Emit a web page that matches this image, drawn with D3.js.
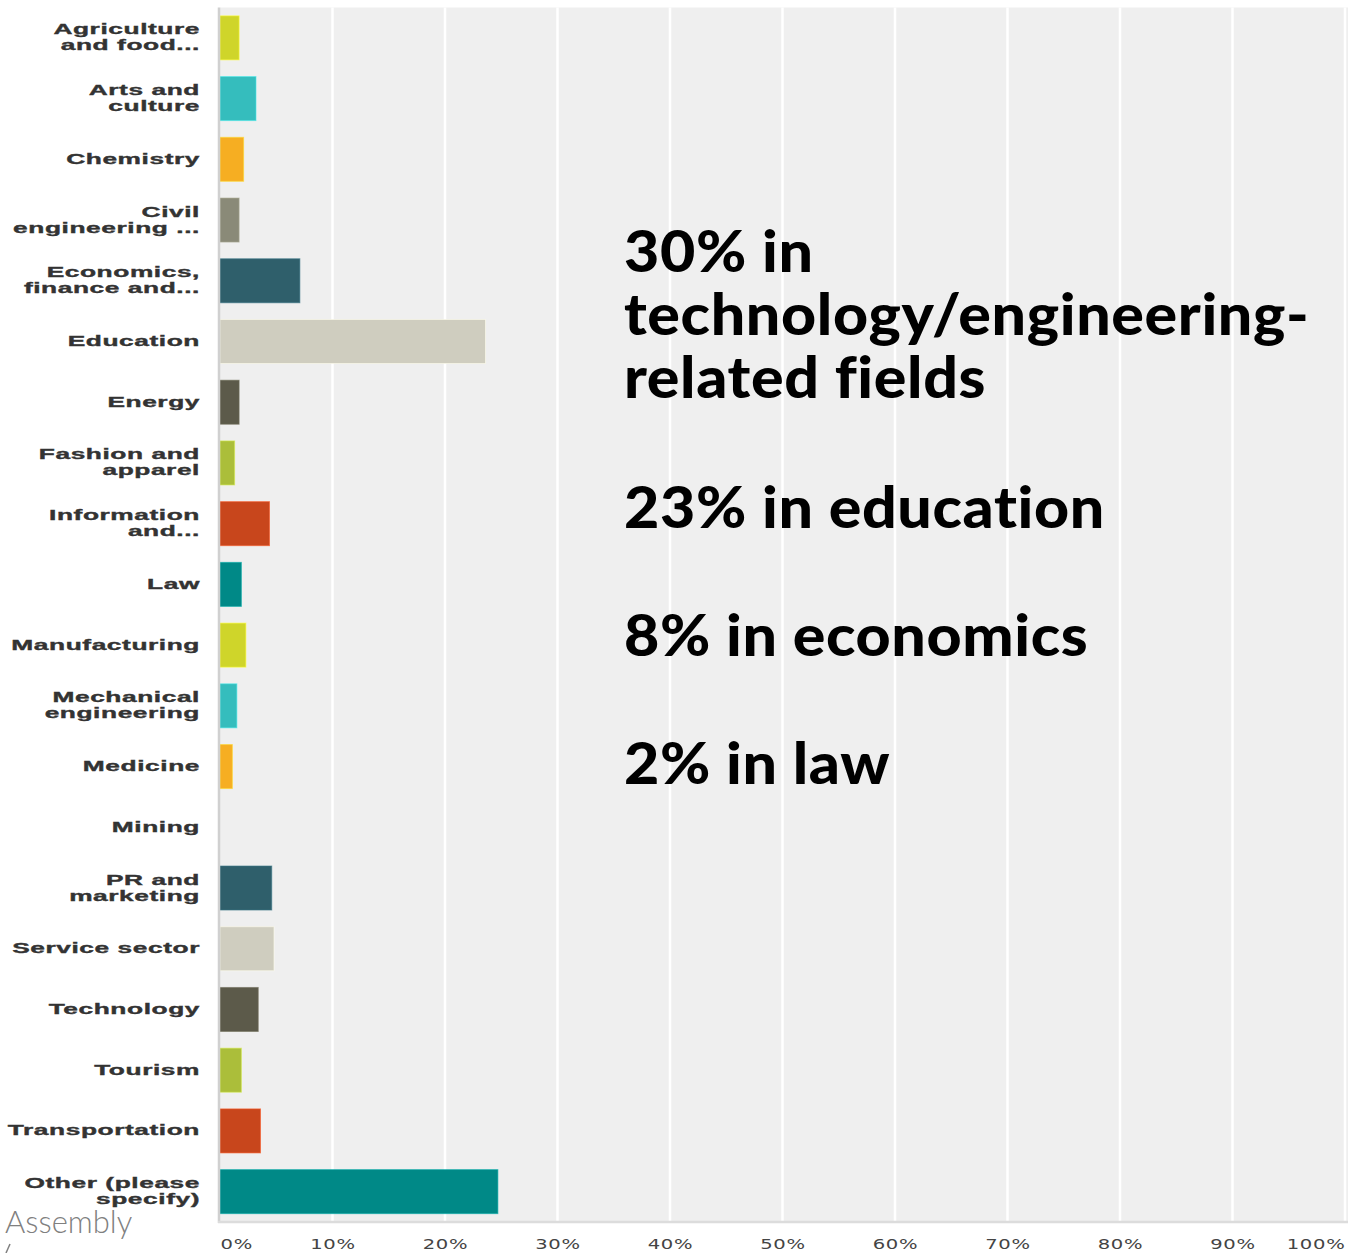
<!DOCTYPE html>
<html>
<head>
<meta charset="utf-8">
<script src="https://cdn.jsdelivr.net/npm/d3@7"></script>
<style>
  html, body { margin: 0; padding: 0; background: #ffffff; }
  svg { display: block; }
</style>
</head>
<body>
<svg id="chart" width="1348" height="1253"></svg>
<script>
// Survey answers: field of work, share of respondents (%)
const categories = [
  "Agriculture\nand food...",
  "Arts and\nculture",
  "Chemistry",
  "Civil\nengineering ...",
  "Economics,\nfinance and...",
  "Education",
  "Energy",
  "Fashion and\napparel",
  "Information\nand...",
  "Law",
  "Manufacturing",
  "Mechanical\nengineering",
  "Medicine",
  "Mining",
  "PR and\nmarketing",
  "Service sector",
  "Technology",
  "Tourism",
  "Transportation",
  "Other (please\nspecify)"
];
const values = [1.7, 3.2, 2.1, 1.7, 7.1, 23.6, 1.7, 1.3, 4.4, 1.9,
                2.3, 1.5, 1.1, 0, 4.6, 4.8, 3.4, 1.9, 3.6, 24.7];
const palette = ["#cfd52a", "#35bdbd", "#f6ae22", "#8a8a78", "#2f5f6b",
                 "#cfcdbf", "#5c5a4a", "#abbe3a", "#c8461c", "#008987"];
const tickValues = [0, 10, 20, 30, 40, 50, 60, 70, 80, 90, 100];
const highlights = [
  ["30% in", "technology/engineering-", "related fields"],
  ["23% in education"],
  ["8% in economics"],
  ["2% in law"]
];
const brand = "Assembly";

const svg = d3.select("#chart");
const W = 1348, H = 1253;
const plot = { left: 220, right: 1345, top: 7.5, bottom: 1222 };

const x = d3.scaleLinear().domain([0, 100]).range([plot.left, plot.right]);
const y = d3.scaleBand().domain(categories)
  .range([plot.top, plot.bottom])
  .paddingInner(0.275).paddingOuter(0.1375);
const color = d3.scaleOrdinal().domain(categories)
  .range(categories.map((c, i) => palette[i % palette.length]));

// plot background
svg.append("rect")
  .attr("x", plot.left).attr("y", plot.top)
  .attr("width", W - plot.left).attr("height", plot.bottom - plot.top)
  .attr("fill", "#efefef");

// vertical gridlines
svg.append("g").selectAll("line")
  .data(tickValues.filter(t => t > 0))
  .join("line")
  .attr("x1", d => x(d)).attr("x2", d => x(d))
  .attr("y1", plot.top).attr("y2", plot.bottom)
  .attr("stroke", "#ffffff").attr("stroke-width", 2.5);

// bars
svg.append("g").selectAll("rect")
  .data(categories.map((c, i) => ({ c, v: values[i] })))
  .join("rect")
  .attr("x", x(0))
  .attr("y", d => y(d.c))
  .attr("width", d => Math.max(0, x(d.v) - x(0)))
  .attr("height", y.bandwidth())
  .attr("fill", d => color(d.c))
  .attr("stroke", d => d3.color(color(d.c)).brighter(0.6))
  .attr("stroke-opacity", d => d.v > 0 ? 0.6 : 0)
  .attr("stroke-width", 1);

// axis frame lines
svg.append("line")
  .attr("x1", plot.left - 1).attr("x2", plot.left - 1)
  .attr("y1", plot.top).attr("y2", plot.bottom + 1)
  .attr("stroke", "#d0d0d0").attr("stroke-width", 2.5);
svg.append("line")
  .attr("x1", plot.left - 2).attr("x2", W)
  .attr("y1", plot.bottom).attr("y2", plot.bottom)
  .attr("stroke", "#dcdcdc").attr("stroke-width", 2.5);

// category labels (wide, heavy)
const labelG = svg.append("g");
categories.forEach(c => {
  const lines = c.split("\n");
  const cy = y(c) + y.bandwidth() / 2;
  lines.forEach((ln, i) => {
    const by = cy + 4.5 + (i - (lines.length - 1) / 2) * 16;
    labelG.append("text")
      .attr("transform", `translate(200,${by}) scale(1.88,1)`)
      .attr("text-anchor", "end")
      .attr("font-family", "'Liberation Sans', Arial, sans-serif")
      .attr("font-weight", "bold")
      .attr("font-size", 14)
      .attr("letter-spacing", 0.3)
      .attr("fill", "#333333")
      .attr("stroke", "#333333")
      .attr("stroke-width", 0.35)
      .text(ln);
  });
});

// bottom axis tick labels
const xAxis = d3.axisBottom(x).tickValues(tickValues)
  .tickFormat(d => d + "%").tickSize(0).tickPadding(0);
const axG = svg.append("g")
  .attr("transform", `translate(0,1249)`)
  .call(xAxis);
axG.select(".domain").remove();
axG.selectAll("text")
  .attr("dy", 0)
  .attr("y", 0)
  .attr("font-family", "'DejaVu Sans', Verdana, sans-serif")
  .attr("font-size", 13.5)
  .attr("letter-spacing", 0.5)
  .attr("fill", "#444444")
  .attr("transform", "scale(1.45,1)")
  .attr("text-anchor", d => d === 0 ? "start" : d === 100 ? "end" : "middle");

// highlight annotations
const noteG = svg.append("g")
  .attr("font-family", "Lato, 'Open Sans', sans-serif")
  .attr("font-weight", 900)
  .attr("font-size", 58)
  .attr("fill", "#000000")
  .style("font-variant-ligatures", "none")
  .style("font-feature-settings", "'liga' 0, 'dlig' 0");
const blockStarts = [272, 528, 656, 784];
highlights.forEach((block, bi) => {
  block.forEach((ln, li) => {
    noteG.append("text")
      .attr("transform", `translate(624,${blockStarts[bi] + li * 63}) scale(1.05,1)`)
      .attr("letter-spacing", 0.6)
      .text(ln);
  });
});

// brand mark
svg.append("text")
  .attr("x", 5).attr("y", 1233)
  .attr("font-family", "Lato, sans-serif")
  .attr("font-weight", 300)
  .attr("font-size", 31)
  .attr("fill", "#808080")
  .text(brand);
svg.append("path")
  .attr("d", "M10,1244 L6,1253")
  .attr("stroke", "#808080").attr("stroke-width", 1.5);
</script>
</body>
</html>
